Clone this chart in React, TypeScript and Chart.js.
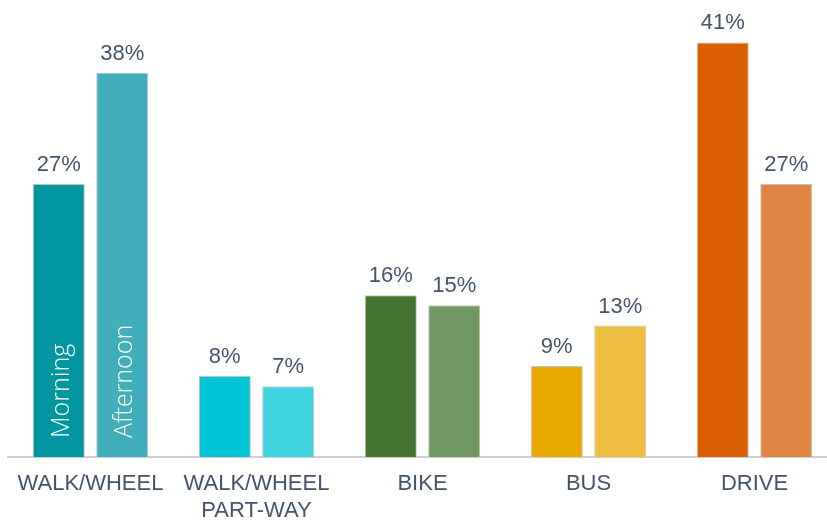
import React, { useEffect, useRef } from "react";
import { Chart, registerables } from "chart.js";

Chart.register(...registerables);

const categories: (string | string[])[] = [
  "WALK/WHEEL",
  ["WALK/WHEEL", "PART-WAY"],
  "BIKE",
  "BUS",
  "DRIVE",
];
const seriesNames = ["Morning", "Afternoon"];
const morning = [27, 8, 16, 9, 41];
const afternoon = [38, 7, 15, 13, 27];
const morningColors = ["#00969F", "#00C4D6", "#437530", "#E8AA00", "#D95F00"];
const afternoonColors = ["#41AFBB", "#40D4E0", "#6F9863", "#EDBD40", "#E08444"];

const LABEL_COLOR = "#44546A";
const FONT = "'Liberation Sans', Arial, sans-serif";

const valueLabels = {
  id: "valueLabels",
  afterDatasetsDraw(chart: any) {
    const ctx = chart.ctx;
    ctx.save();
    chart.data.datasets.forEach((ds: any, di: number) => {
      const meta = chart.getDatasetMeta(di);
      meta.data.forEach((bar: any, i: number) => {
        ctx.font = `22px ${FONT}`;
        ctx.fillStyle = LABEL_COLOR;
        ctx.textAlign = "center";
        ctx.textBaseline = "alphabetic";
        ctx.fillText(ds.data[i] + "%", bar.x, bar.y - 13);
        if (i === 0) {
          ctx.save();
          ctx.translate(bar.x + 3, bar.base - 19);
          ctx.rotate(-Math.PI / 2);
          ctx.font = `300 25px 'Open Sans', 'Lato', sans-serif`;
          ctx.fillStyle = "#ffffff";
          ctx.textAlign = "left";
          ctx.textBaseline = "middle";
          ctx.fillText(ds.label, 0, 0);
          ctx.restore();
        }
      });
    });
    ctx.restore();
  },
};

export default function App() {
  const ref = useRef<HTMLCanvasElement | null>(null);
  useEffect(() => {
    if (!ref.current) return;
    const chart = new Chart(ref.current, {
      type: "bar",
      data: {
        labels: categories,
        datasets: [
          {
            label: seriesNames[0],
            data: morning,
            backgroundColor: morningColors,
            borderColor: "#c4c4c4",
            borderWidth: 1,
          },
          {
            label: seriesNames[1],
            data: afternoon,
            backgroundColor: afternoonColors,
            borderColor: "#c4c4c4",
            borderWidth: 1,
          },
        ],
      },
      options: {
        animation: false,
        responsive: false,
        maintainAspectRatio: false,
        layout: { padding: { left: 7.5, right: 7.5, top: 2, bottom: 0 } },
        datasets: { bar: { categoryPercentage: 0.765, barPercentage: 0.82 } },
        plugins: {
          legend: { display: false },
          tooltip: { enabled: false },
        },
        scales: {
          y: { display: false, min: 0, max: 45 },
          x: {
            grid: { display: false, drawTicks: false },
            border: { display: true, color: "#cfcfcf", width: 2 },
            ticks: {
              color: LABEL_COLOR,
              font: { family: FONT, size: 22, lineHeight: 1.23 },
              padding: 13,
              maxRotation: 0,
              autoSkip: false,
            },
            afterFit(scale: any) {
              scale.height = 64;
            },
          },
        },
      },
      plugins: [valueLabels],
    });
    return () => chart.destroy();
  }, []);
  return (
    <div
      style={{
        position: "fixed",
        left: 0,
        top: 0,
        width: 827,
        height: 521,
        overflow: "hidden",
        background: "#ffffff",
      }}
    >
      <canvas ref={ref} width={845} height={521} style={{ display: "block" }} />
    </div>
  );
}
